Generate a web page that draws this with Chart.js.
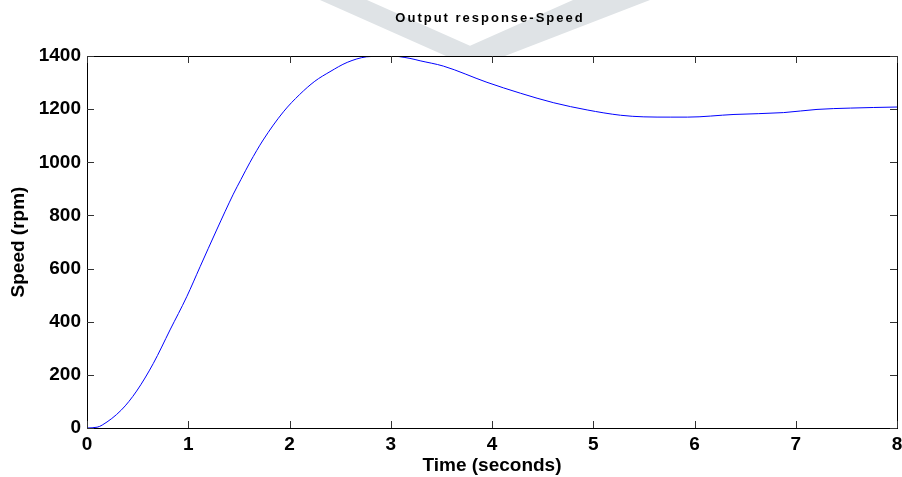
<!DOCTYPE html>
<html>
<head>
<meta charset="utf-8">
<script src="https://cdn.jsdelivr.net/npm/chart.js@4"></script>
<style>
  html, body { margin: 0; padding: 0; background: #fff; }
  #wrap { width: 902px; height: 477px; }
</style>
</head>
<body>
<div id="wrap"><canvas id="chart"></canvas></div>
<script>
// values
var timeSec = [0, 0.1, 0.15, 0.34, 0.49, 0.655, 0.82, 0.985, 1.117, 1.28, 1.445, 1.52, 1.61, 1.74, 1.94, 2.1, 2.25, 2.4, 2.57, 2.76, 2.99, 3.19, 3.29, 3.52, 3.95, 4.28, 4.61, 4.94, 5.27, 5.5, 5.76, 5.93, 6.39, 6.88, 7.21, 7.54, 8.0];
var speedRpm = [0, 3, 11, 68, 139, 243, 369, 494, 607, 745, 880, 935, 1000, 1084, 1190, 1255, 1305, 1341, 1376, 1397, 1401, 1391, 1382, 1362, 1301, 1260, 1224, 1197, 1177, 1171, 1170, 1170, 1180, 1187, 1199, 1204, 1208];
var xTicks = [0, 1, 2, 3, 4, 5, 6, 7, 8];
var yTicks = [0, 200, 400, 600, 800, 1000, 1200, 1400];
var chartTitle = 'Output response-Speed';

var points = [];
for (var i = 0; i < timeSec.length; i++) {
  points.push({ x: timeSec[i], y: speedRpm[i] });
}

var FONT = '"Liberation Sans", Arial, sans-serif';

// faint grey V watermark above the plot, title on top of it
var watermark = {
  id: 'watermark',
  beforeDraw: function (chart) {
    var ctx = chart.ctx;
    ctx.save();
    ctx.fillStyle = '#dfe3e6';
    ctx.beginPath();
    ctx.moveTo(320, 0); ctx.lineTo(367, 0); ctx.lineTo(493, 56); ctx.lineTo(446, 56);
    ctx.closePath();
    ctx.fill();
    ctx.beginPath();
    ctx.moveTo(573, 0); ctx.lineTo(650, 0); ctx.lineTo(505, 56); ctx.lineTo(447, 56);
    ctx.closePath();
    ctx.fill();
    ctx.fillStyle = '#000';
    ctx.font = 'bold 13px ' + FONT;
    ctx.letterSpacing = '2px';
    ctx.textAlign = 'center';
    ctx.textBaseline = 'alphabetic';
    ctx.fillText(chartTitle, 490, 22);
    ctx.restore();
  }
};

// matlab style box with inward ticks
var boxTicks = {
  id: 'boxTicks',
  afterDatasetsDraw: function (chart) {
    var ctx = chart.ctx, a = chart.chartArea;
    var xs = chart.scales.x, ys = chart.scales.y;
    ctx.save();
    ctx.strokeStyle = '#000';
    ctx.lineWidth = 1;
    ctx.strokeRect(a.left + 0.5, a.top + 0.5, a.right - a.left, a.bottom - a.top);
    ctx.strokeStyle = '#333';
    ctx.beginPath();
    xTicks.forEach(function (v) {
      var px = Math.round(xs.getPixelForValue(v)) + 0.5;
      ctx.moveTo(px, a.bottom); ctx.lineTo(px, a.bottom - 7);
      ctx.moveTo(px, a.top); ctx.lineTo(px, a.top + 7);
    });
    yTicks.forEach(function (v) {
      var py = Math.round(ys.getPixelForValue(v)) + 0.5;
      ctx.moveTo(a.left, py); ctx.lineTo(a.left + 7, py);
      ctx.moveTo(a.right, py); ctx.lineTo(a.right - 7, py);
    });
    ctx.stroke();
    ctx.restore();
  }
};

new Chart(document.getElementById('chart'), {
  type: 'line',
  data: {
    datasets: [{
      label: 'Speed',
      data: points,
      borderColor: '#0000ff',
      borderWidth: 1,
      pointRadius: 0,
      fill: false,
      cubicInterpolationMode: 'monotone'
    }]
  },
  options: {
    responsive: true,
    maintainAspectRatio: false,
    animation: false,
    layout: { padding: { left: 0, right: 5, top: 56, bottom: 0 } },
    plugins: {
      legend: { display: false },
      tooltip: { enabled: false },
      title: { display: false }
    },
    scales: {
      x: {
        type: 'linear',
        min: 0,
        max: 8,
        afterBuildTicks: function (s) { s.ticks = xTicks.map(function (v) { return { value: v }; }); },
        afterFit: function (s) { s.height = 49; s.paddingLeft = 0; s.paddingRight = 0; },
        grid: { display: false, drawTicks: false },
        border: { display: false },
        ticks: {
          color: '#000',
          padding: 5,
          maxRotation: 0,
          callback: function (v) { return String(v); },
          font: { family: FONT, size: 19, weight: 'bold' }
        },
        title: {
          display: true,
          text: 'Time (seconds)',
          color: '#000',
          padding: { top: 0, bottom: 0 },
          font: { family: FONT, size: 19, weight: 'bold' }
        }
      },
      y: {
        min: 0,
        max: 1400,
        afterBuildTicks: function (s) { s.ticks = yTicks.map(function (v) { return { value: v }; }); },
        afterFit: function (s) { s.width = 87; },
        grid: { display: false, drawTicks: false },
        border: { display: false },
        ticks: {
          color: '#000',
          padding: 6,
          callback: function (v) { return String(v); },
          font: { family: FONT, size: 19, weight: 'bold' }
        },
        title: {
          display: true,
          text: 'Speed (rpm)',
          color: '#000',
          padding: { top: 7, bottom: 0 },
          font: { family: FONT, size: 19, weight: 'bold' }
        }
      }
    }
  },
  plugins: [watermark, boxTicks]
});
</script>
</body>
</html>
